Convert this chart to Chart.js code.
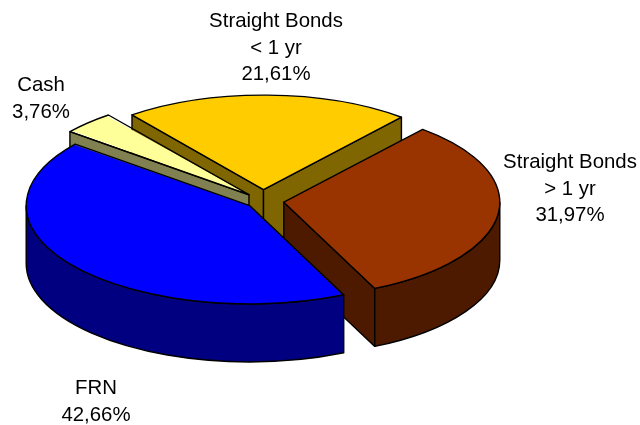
<!DOCTYPE html>
<html>
<head>
<meta charset="utf-8">
<title>Portfolio breakdown</title>
<style>
  html, body { margin: 0; padding: 0; background: #fff; }
  canvas { display: block; }
</style>
<script src="https://cdn.jsdelivr.net/npm/chart.js@4"></script>
</head>
<body>
<canvas id="pie" width="640" height="425"></canvas>
<script>
// Slices, clockwise from the first-angle position
const categories = [['Straight Bonds', '> 1 yr'], ['FRN'], ['Cash'], ['Straight Bonds', '< 1 yr']];
const shares = [31.97, 42.66, 3.76, 21.61];
const topColors = ['#993300', '#0000ff', '#ffff99', '#ffcc00'];
const wallColors = ['#4d1a00', '#000080', '#808050', '#806600'];
const explode = [84, 68, 80, 104];

// Tilt of the pie
const squash = 0.44;
const depth = 58;
const paintOrder = [3, 2, 0, 1];
const labelCenters = [[570, 189], [96, 402], [41, 99], [276, 48]];

// Same geometry ArcElement.draw uses for an exploded slice:
// shifted by offset/4, radius grown by offset/4 * (1 - sin(circumference))
function sliceGeom(arc, cy) {
  const mid = (arc.startAngle + arc.endAngle) / 2;
  const off = (arc.options.offset || 0) / 4;
  const fix = 1 - Math.sin(Math.min(Math.PI, arc.circumference));
  return {
    x: arc.x + Math.cos(mid) * off,
    y: cy + Math.sin(mid) * off * squash,
    r: arc.outerRadius + off * fix
  };
}

function outerSpan(start, end) {
  // part of the rim that faces the viewer
  const twoPi = Math.PI * 2;
  for (const k of [0, 1, -1]) {
    const a = Math.max(start, k * twoPi);
    const b = Math.min(end, k * twoPi + Math.PI);
    if (b > a) return [a, b];
  }
  return null;
}

const pie3d = {
  id: 'pie3d',
  beforeDatasetDraw(chart) {
    const ctx = chart.ctx;
    const arcs = chart.getDatasetMeta(0).data;
    const cy = arcs[0].y;

    ctx.save();
    ctx.lineWidth = 1.4;
    ctx.strokeStyle = '#000';
    ctx.lineJoin = 'round';
    paintOrder.forEach(i => {
      const arc = arcs[i];
      const s = sliceGeom(arc, cy);
      const ry = s.r * squash;
      ctx.fillStyle = wallColors[i];

      // flat cut faces
      [[arc.startAngle, -1], [arc.endAngle, 1]].forEach(([a, side]) => {
        if (Math.cos(a) * side <= 0) return;
        const ex = s.x + s.r * Math.cos(a);
        const ey = s.y + ry * Math.sin(a);
        ctx.beginPath();
        ctx.moveTo(s.x, s.y);
        ctx.lineTo(ex, ey);
        ctx.lineTo(ex, ey + depth);
        ctx.lineTo(s.x, s.y + depth);
        ctx.closePath();
        ctx.fill();
        ctx.stroke();
      });

      // rim
      const span = outerSpan(arc.startAngle, arc.endAngle);
      if (span) {
        ctx.beginPath();
        ctx.ellipse(s.x, s.y, s.r, ry, 0, span[0], span[1]);
        ctx.ellipse(s.x, s.y + depth, s.r, ry, 0, span[1], span[0], true);
        ctx.closePath();
        ctx.fill();
        ctx.stroke();
      }
    });
    ctx.restore();

    // top faces are drawn flattened
    ctx.save();
    ctx.translate(0, cy);
    ctx.scale(1, squash);
    ctx.translate(0, -cy);
  },
  afterDatasetDraw(chart) {
    const ctx = chart.ctx;
    ctx.restore();

    const arcs = chart.getDatasetMeta(0).data;
    const cy = arcs[0].y;
    ctx.save();
    ctx.lineWidth = 1.4;
    ctx.strokeStyle = '#000';
    ctx.lineJoin = 'round';
    arcs.forEach(arc => {
      const s = sliceGeom(arc, cy);
      ctx.beginPath();
      ctx.moveTo(s.x, s.y);
      ctx.ellipse(s.x, s.y, s.r, s.r * squash, 0, arc.startAngle, arc.endAngle);
      ctx.closePath();
      ctx.stroke();
    });

    // category and share under one another
    ctx.fillStyle = '#000';
    ctx.font = '20.4px "Liberation Sans", Arial, sans-serif';
    ctx.textAlign = 'center';
    ctx.textBaseline = 'middle';
    arcs.forEach((arc, i) => {
      const lines = categories[i].concat(shares[i].toFixed(2).replace('.', ',') + '%');
      lines.forEach((t, n) => {
        ctx.fillText(t, labelCenters[i][0], labelCenters[i][1] + (n - (lines.length - 1) / 2) * 26.5);
      });
    });
    ctx.restore();
  }
};

new Chart(document.getElementById('pie'), {
  type: 'pie',
  data: {
    labels: categories.map(c => c.join(' ')),
    datasets: [{
      data: shares,
      backgroundColor: topColors,
      borderWidth: 0,
      offset: explode
    }]
  },
  options: {
    responsive: false,
    animation: false,
    rotation: 40,
    radius: 214,
    layout: { padding: { right: 114, bottom: 23 } },
    plugins: { legend: { display: false }, tooltip: { enabled: false } }
  },
  plugins: [pie3d]
});
</script>
</body>
</html>
